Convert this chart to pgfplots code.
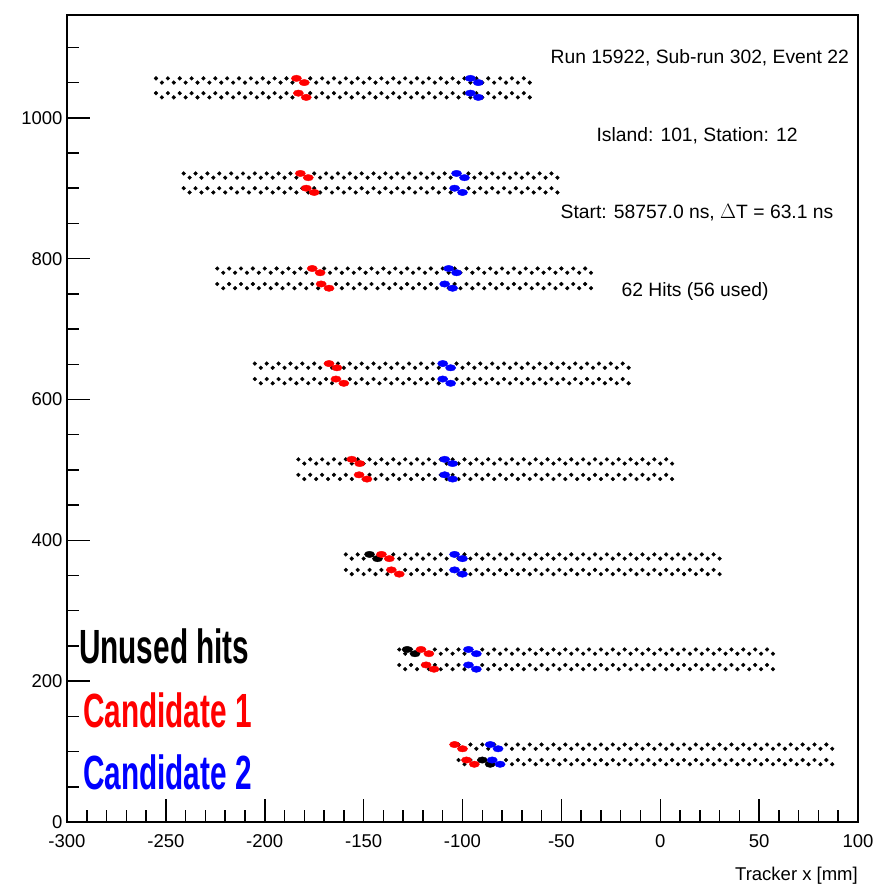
\documentclass[border=0pt]{standalone}
\usepackage{pgfplots}
\pgfplotsset{compat=1.18}
\usepackage{pgfplotstable}
\usepackage{fontspec}
\setmainfont{Liberation Sans}

\pgfplotstableread{
a1 b1 a2 b2 a3 b3 a4 b4 a5 b5 a6 b6 a7 b7 a8 b8
-255 -252 -241 -238 -224 -221 -205 -202 -183 -180 -159 -156 -132 -129 -102 -99
-249 -246 -235 -232 -218 -215 -199 -196 -177 -174 -153 -150 -126 -123 -96 -93
-243 -240 -229 -226 -212 -209 -193 -190 -171 -168 -147 -144 -120 -117 -90 -87
-237 -234 -223 -220 -206 -203 -187 -184 -165 -162 -141 -138 -114 -111 -84 -81
-231 -228 -217 -214 -200 -197 -181 -178 -159 -156 -135 -132 -108 -105 -78 -75
-225 -222 -211 -208 -194 -191 -175 -172 -153 -150 -129 -126 -102 -99 -72 -69
-219 -216 -205 -202 -188 -185 -169 -166 -147 -144 -123 -120 -96 -93 -66 -63
-213 -210 -199 -196 -182 -179 -163 -160 -141 -138 -117 -114 -90 -87 -60 -57
-207 -204 -193 -190 -176 -173 -157 -154 -135 -132 -111 -108 -84 -81 -54 -51
-201 -198 -187 -184 -170 -167 -151 -148 -129 -126 -105 -102 -78 -75 -48 -45
-195 -192 -181 -178 -164 -161 -145 -142 -123 -120 -99 -96 -72 -69 -42 -39
-189 -186 -175 -172 -158 -155 -139 -136 -117 -114 -93 -90 -66 -63 -36 -33
-183 -180 -169 -166 -152 -149 -133 -130 -111 -108 -87 -84 -60 -57 -30 -27
-177 -174 -163 -160 -146 -143 -127 -124 -105 -102 -81 -78 -54 -51 -24 -21
-171 -168 -157 -154 -140 -137 -121 -118 -99 -96 -75 -72 -48 -45 -18 -15
-165 -162 -151 -148 -134 -131 -115 -112 -93 -90 -69 -66 -42 -39 -12 -9
-159 -156 -145 -142 -128 -125 -109 -106 -87 -84 -63 -60 -36 -33 -6 -3
-153 -150 -139 -136 -122 -119 -103 -100 -81 -78 -57 -54 -30 -27 0 3
-147 -144 -133 -130 -116 -113 -97 -94 -75 -72 -51 -48 -24 -21 6 9
-141 -138 -127 -124 -110 -107 -91 -88 -69 -66 -45 -42 -18 -15 12 15
-135 -132 -121 -118 -104 -101 -85 -82 -63 -60 -39 -36 -12 -9 18 21
-129 -126 -115 -112 -98 -95 -79 -76 -57 -54 -33 -30 -6 -3 24 27
-123 -120 -109 -106 -92 -89 -73 -70 -51 -48 -27 -24 0 3 30 33
-117 -114 -103 -100 -86 -83 -67 -64 -45 -42 -21 -18 6 9 36 39
-111 -108 -97 -94 -80 -77 -61 -58 -39 -36 -15 -12 12 15 42 45
-105 -102 -91 -88 -74 -71 -55 -52 -33 -30 -9 -6 18 21 48 51
-99 -96 -85 -82 -68 -65 -49 -46 -27 -24 -3 0 24 27 54 57
-93 -90 -79 -76 -62 -59 -43 -40 -21 -18 3 6 30 33 60 63
-87 -84 -73 -70 -56 -53 -37 -34 -15 -12 9 12 36 39 66 69
-81 -78 -67 -64 -50 -47 -31 -28 -9 -6 15 18 42 45 72 75
-75 -72 -61 -58 -44 -41 -25 -22 -3 0 21 24 48 51 78 81
-69 -66 -55 -52 -38 -35 -19 -16 3 6 27 30 54 57 84 87
}\straws

\begin{document}
\begin{tikzpicture}[x=1pt,y=1pt]
\useasboundingbox (0,0) rectangle (876,894);
\begin{axis}[
  at={(67pt,72pt)}, anchor=south west,
  width=791pt, height=807pt, scale only axis,
  xmin=-300, xmax=100, ymin=0, ymax=1146,
  xtick distance=50, ytick distance=200,
  minor x tick num=4, minor y tick num=3,
  tick align=inside, xtick pos=bottom, ytick pos=left,
  major tick length=23pt, minor tick length=12pt,
  axis line style={line width=1.5pt},
  every tick/.style={black, line width=1.5pt},
  scaled ticks=false,
  /pgf/number format/assume math mode=true,
  /pgf/number format/set thousands separator={},
  tick label style={font=\fontsize{18.5}{18.5}\selectfont},
  xticklabel style={yshift=-9pt},
  yticklabel style={xshift=-1pt},
  xlabel={Tracker x [mm]},
  xlabel style={at={(rel axis cs:1,0)}, anchor=north east, inner sep=0pt, yshift=-45pt, font=\fontsize{18.5}{18.5}\selectfont},
  straw/.style={only marks, mark=*, mark size=1.9pt, black, forget plot},
  hit/.style={only marks, mark=*, mark size=3.2pt, mark options={xscale=1.6}, forget plot},
]
% module 1
\addplot[straw] table[x=a1, y expr=1056] {\straws};
\addplot[straw] table[x=b1, y expr=1050] {\straws};
\addplot[straw] table[x=a1, y expr=1035] {\straws};
\addplot[straw] table[x=b1, y expr=1029] {\straws};
% module 2
\addplot[straw] table[x=a2, y expr=921] {\straws};
\addplot[straw] table[x=b2, y expr=915] {\straws};
\addplot[straw] table[x=a2, y expr=900] {\straws};
\addplot[straw] table[x=b2, y expr=894] {\straws};
% module 3
\addplot[straw] table[x=a3, y expr=786] {\straws};
\addplot[straw] table[x=b3, y expr=780] {\straws};
\addplot[straw] table[x=a3, y expr=764] {\straws};
\addplot[straw] table[x=b3, y expr=758] {\straws};
% module 4
\addplot[straw] table[x=a4, y expr=651] {\straws};
\addplot[straw] table[x=b4, y expr=645] {\straws};
\addplot[straw] table[x=a4, y expr=629] {\straws};
\addplot[straw] table[x=b4, y expr=623] {\straws};
% module 5
\addplot[straw] table[x=a5, y expr=515] {\straws};
\addplot[straw] table[x=b5, y expr=509] {\straws};
\addplot[straw] table[x=a5, y expr=493] {\straws};
\addplot[straw] table[x=b5, y expr=487] {\straws};
% module 6
\addplot[straw] table[x=a6, y expr=380] {\straws};
\addplot[straw] table[x=b6, y expr=374] {\straws};
\addplot[straw] table[x=a6, y expr=358] {\straws};
\addplot[straw] table[x=b6, y expr=352] {\straws};
% module 7
\addplot[straw] table[x=a7, y expr=245] {\straws};
\addplot[straw] table[x=b7, y expr=239] {\straws};
\addplot[straw] table[x=a7, y expr=223] {\straws};
\addplot[straw] table[x=b7, y expr=217] {\straws};
% module 8
\addplot[straw] table[x=a8, y expr=110] {\straws};
\addplot[straw] table[x=b8, y expr=104] {\straws};
\addplot[straw] table[x=a8, y expr=88] {\straws};
\addplot[straw] table[x=b8, y expr=82] {\straws};

% unused hits
\addplot[hit, black] coordinates {
(-147,380) (-143,374) (-128,245) (-124,239) (-90,88) (-86,82)};
% candidate 1
\addplot[hit, red] coordinates {
(-184,1056) (-180,1050) (-183,1035) (-179,1029)
(-182,921) (-178,915) (-179,900) (-175,894)
(-176,786) (-172,780) (-171.5,764) (-167.5,758)
(-167.5,651) (-163.5,645) (-164,629) (-160,623)
(-156,515) (-152,509) (-152.3,493) (-148.3,487)
(-141,380) (-137,374) (-136,358) (-132,352)
(-121,245) (-117,239) (-118.4,223) (-114.4,217)
(-104,110) (-100,104) (-98,88) (-94,82)};
% candidate 2
\addplot[hit, blue] coordinates {
(-96,1056) (-92,1050) (-96,1035) (-92,1029)
(-103,921) (-99,915) (-104,900) (-100,894)
(-107,786) (-103,780) (-109,764) (-105,758)
(-110,651) (-106,645) (-110,629) (-106,623)
(-109,515) (-105,509) (-109,493) (-105,487)
(-104,380) (-100,374) (-104,358) (-100,352)
(-97,245) (-93,239) (-97,223) (-93,217)
(-86,110) (-82,104) (-85,88) (-81,82)};

\node[font=\fontsize{19.3}{20}\selectfont] at (axis cs:20,1085) {Run 15922, Sub-run 302, Event 22};
\node[font=\fontsize{19.3}{20}\selectfont] at (axis cs:18.6,974) {Island: 101, Station: 12};
\node[font=\fontsize{19.3}{20}\selectfont] at (axis cs:18.6,865) {Start: 58757.0 ns, $\Delta$T = 63.1 ns};
\node[font=\fontsize{19.3}{20}\selectfont] at (axis cs:17.6,753) {62 Hits (56 used)};

\node[anchor=west, inner sep=0pt, font=\fontsize{48}{48}\selectfont\bfseries, text=black] at (axis cs:-294,250) {\scalebox{0.62}[1]{Unused hits}};
\node[anchor=west, inner sep=0pt, font=\fontsize{48}{48}\selectfont\bfseries, text=red] at (axis cs:-292,159) {\scalebox{0.62}[1]{Candidate 1}};
\node[anchor=west, inner sep=0pt, font=\fontsize{48}{48}\selectfont\bfseries, text=blue] at (axis cs:-292,71) {\scalebox{0.62}[1]{Candidate 2}};
\end{axis}
\end{tikzpicture}
\end{document}
